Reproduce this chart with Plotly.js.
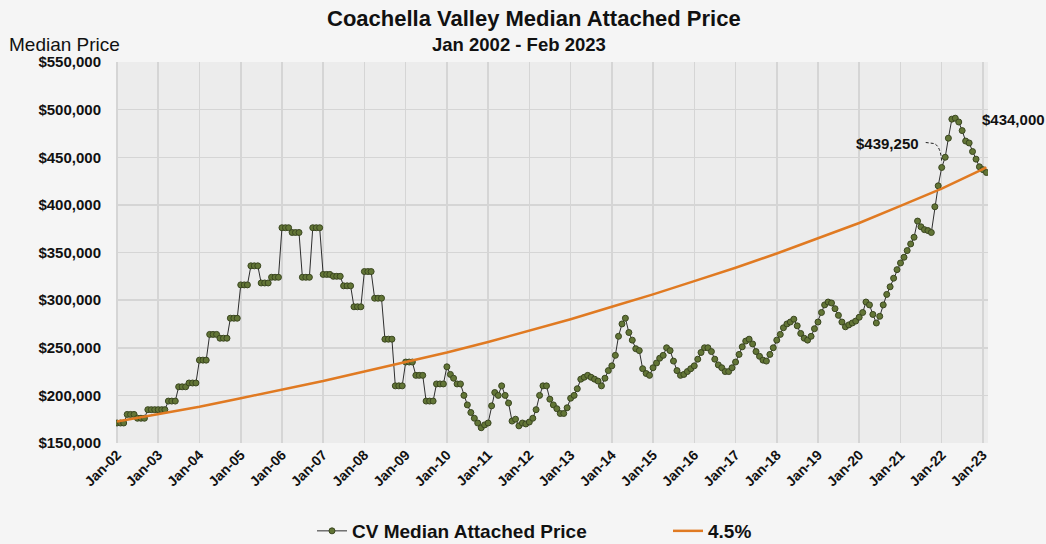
<!DOCTYPE html>
<html>
<head>
<meta charset="utf-8">
<script src="https://cdn.plot.ly/plotly-3.0.1.min.js"></script>
<style>
  html, body { margin: 0; padding: 0; background: #f5f5f5; }
  #chart { width: 1046px; height: 544px; }
</style>
</head>
<body>
<div id="chart"></div>
<script>
// ---- Data (values in thousands of dollars) ----
const price2002 = [171, 171, 171, 180, 180, 180, 176, 176, 176, 185, 185, 185];
const price2003 = [185, 185, 185, 194, 194, 194, 209, 209, 209, 213, 213, 213];
const price2004 = [237, 237, 237, 264, 264, 264, 260, 260, 260, 281, 281, 281];
const price2005 = [316, 316, 316, 336, 336, 336, 318, 318, 318, 324, 324, 324];
const price2006 = [376, 376, 376, 371, 371, 371, 324, 324, 324, 376, 376, 376];
const price2007 = [327, 327, 327, 325, 325, 325, 315, 315, 315, 293, 293, 293];
const price2008 = [330, 330, 330, 302, 302, 302, 259, 259, 259, 210, 210, 210];
const price2009 = [235, 235, 235, 221, 221, 221, 194, 194, 194, 212, 212, 212];
const price2010 = [230, 222, 218, 212, 212, 200, 190, 182, 176, 171, 166, 169];
const price2011 = [171, 189, 203, 200, 210, 200, 192, 173, 175, 168, 171, 170];
const price2012 = [172, 176, 185, 200, 210, 210, 196, 190, 186, 181, 181, 187];
const price2013 = [197, 200, 207, 217, 219, 221, 219, 217, 215, 210, 218, 226];
const price2014 = [231, 242, 262, 275, 281, 266, 258, 249, 247, 228, 223, 221];
const price2015 = [229, 234, 239, 242, 250, 247, 236, 226, 221, 222, 225, 228];
const price2016 = [231, 238, 245, 250, 250, 246, 238, 232, 229, 225, 225, 229];
const price2017 = [235, 243, 251, 257, 259, 254, 246, 241, 237, 236, 243, 250];
const price2018 = [258, 264, 271, 275, 277, 280, 273, 265, 260, 258, 262, 270];
const price2019 = [277, 287, 295, 298, 297, 291, 284, 277, 272, 274, 276, 278];
const price2020 = [282, 287, 298, 295, 285, 276, 283, 295, 306, 314, 323, 332];
const price2021 = [339, 345, 352, 359, 366, 383, 377, 374, 373, 371, 398, 420];
const price2022 = [439.25, 450, 470, 490, 491, 487, 478, 467, 465, 456, 448, 440];
const price2023 = [437, 434];

// 4.5% reference line, read at each January (plus the final month)
const trendDates  = ['2002-01-01','2003-01-01','2004-01-01','2005-01-01','2006-01-01','2007-01-01',
                     '2008-01-01','2009-01-01','2010-01-01','2011-01-01','2012-01-01','2013-01-01',
                     '2014-01-01','2015-01-01','2016-01-01','2017-01-01','2018-01-01','2019-01-01',
                     '2020-01-01','2021-01-01','2022-01-01','2023-01-01','2023-02-01'];
const trendValues = [172.5, 180, 188, 197, 206, 215, 225, 235, 245, 256, 268, 280,
                     293, 306, 320, 334, 349, 365, 381, 399, 417, 437.5, 439.25];

const tickLabels = ['Jan-02','Jan-03','Jan-04','Jan-05','Jan-06','Jan-07','Jan-08','Jan-09',
                    'Jan-10','Jan-11','Jan-12','Jan-13','Jan-14','Jan-15','Jan-16','Jan-17',
                    'Jan-18','Jan-19','Jan-20','Jan-21','Jan-22','Jan-23'];
const tickDates  = ['2002-01-01','2003-01-01','2004-01-01','2005-01-01','2006-01-01','2007-01-01',
                    '2008-01-01','2009-01-01','2010-01-01','2011-01-01','2012-01-01','2013-01-01',
                    '2014-01-01','2015-01-01','2016-01-01','2017-01-01','2018-01-01','2019-01-01',
                    '2020-01-01','2021-01-01','2022-01-01','2023-01-01'];

const seriesName = 'CV Median Attached Price';
const trendName = '4.5%';

// ---- Build monthly table ----
const yearTable = [
  [2002, price2002],[2003, price2003],[2004, price2004],[2005, price2005],[2006, price2006],
  [2007, price2007],[2008, price2008],[2009, price2009],[2010, price2010],[2011, price2011],
  [2012, price2012],[2013, price2013],[2014, price2014],[2015, price2015],[2016, price2016],
  [2017, price2017],[2018, price2018],[2019, price2019],[2020, price2020],[2021, price2021],
  [2022, price2022],[2023, price2023]
];
const K = 1000;
const xs = [], ys = [];
yearTable.forEach(([yr, arr]) => {
  arr.forEach((v, i) => {
    xs.push(yr + '-' + String(i + 1).padStart(2, '0') + '-01');
    ys.push(v * K);
  });
});

const hiX = '2022-01-01', hiY = price2022[0] * K;
const lastX = xs[xs.length - 1], lastY = ys[ys.length - 1];

const FONT = '"Liberation Sans", Arial, sans-serif';

const traces = [
  {
    x: xs, y: ys, name: seriesName, type: 'scatter', mode: 'lines+markers',
    line: { color: '#2e2e2e', width: 1 },
    marker: { size: 6, color: '#627536', line: { color: '#3a4620', width: 1 } }
  },
  {
    x: trendDates, y: trendValues.map(v => v * K), name: trendName, type: 'scatter', mode: 'lines',
    line: { color: '#e07a22', width: 2.5 }
  }
];

const layout = {
  width: 1046, height: 544,
  paper_bgcolor: '#f5f5f5', plot_bgcolor: '#ececec',
  margin: { l: 116, r: 58, t: 62, b: 101 },
  font: { family: FONT, color: '#111' },
  showlegend: true,
  legend: {
    orientation: 'h', xref: 'container', yref: 'container',
    x: 312 / 1046, xanchor: 'left', y: 13 / 544, yanchor: 'middle',
    font: { family: FONT, size: 19, color: '#111', weight: 'bold' },
    bgcolor: 'rgba(0,0,0,0)', entrywidth: 311, itemwidth: 30
  },
  xaxis: {
    type: 'date', range: ['2001-12-23', '2023-02-15'],
    tickvals: tickDates, ticktext: tickLabels, tickangle: -45,
    tickfont: { family: FONT, size: 14, color: '#111', weight: 'bold' },
    showgrid: true, gridcolor: '#d5d5d5', gridwidth: 1.5,
    zeroline: false, showline: false, ticks: '', automargin: false
  },
  yaxis: {
    range: [150000, 550000], dtick: 50000, tick0: 150000, tickformat: '$,.0f',
    tickfont: { family: FONT, size: 15, color: '#111', weight: 'bold' },
    showgrid: true, gridcolor: '#d5d5d5', gridwidth: 1.5, zeroline: false,
    ticks: '', ticklabelstandoff: 14, automargin: false
  },
  annotations: [
    { xref: 'paper', yref: 'paper', x: (534 - 116) / 872, y: 1, yshift: 44, xanchor: 'center', yanchor: 'middle',
      text: 'Coachella Valley Median Attached Price', showarrow: false,
      font: { family: FONT, size: 22, color: '#111', weight: 'bold' } },
    { xref: 'paper', yref: 'paper', x: (519 - 116) / 872, y: 1, yshift: 18, xanchor: 'center', yanchor: 'middle',
      text: 'Jan 2002 - Feb 2023', showarrow: false,
      font: { family: FONT, size: 18.5, color: '#111', weight: 'bold' } },
    { xref: 'paper', yref: 'paper', x: 0, xshift: -109, y: 1, yshift: 18, xanchor: 'left', yanchor: 'middle',
      text: 'Median Price', showarrow: false,
      font: { family: FONT, size: 19, color: '#111' } },
    { x: hiX, y: hiY, xshift: -54, yshift: 24, xanchor: 'center', yanchor: 'middle',
      text: '$' + hiY.toLocaleString('en-US'), showarrow: false,
      font: { family: FONT, size: 15, color: '#111', weight: 'bold' } },
    { x: lastX, y: lastY, xshift: 27, yshift: 53, xanchor: 'center', yanchor: 'middle',
      text: '$' + lastY.toLocaleString('en-US'), showarrow: false,
      font: { family: FONT, size: 15, color: '#111', weight: 'bold' } }
  ],
  shapes: [
    { type: 'path', xref: 'x', yref: 'y', xsizemode: 'pixel', ysizemode: 'pixel',
      xanchor: hiX, yanchor: hiY, path: 'M-16,25 L-8,24 Q-1,22 0,5',
      line: { color: '#222', width: 1, dash: '3px,2px' } },
    { type: 'line', xref: 'x', yref: 'y', xsizemode: 'pixel', ysizemode: 'pixel',
      xanchor: lastX, yanchor: lastY, x0: 36, y0: 41, x1: 5, y1: 5,
      line: { color: '#222', width: 1, dash: '3px,2px' } }
  ]
};

Plotly.newPlot('chart', traces, layout, { displayModeBar: false, staticPlot: true });
</script>
</body>
</html>
